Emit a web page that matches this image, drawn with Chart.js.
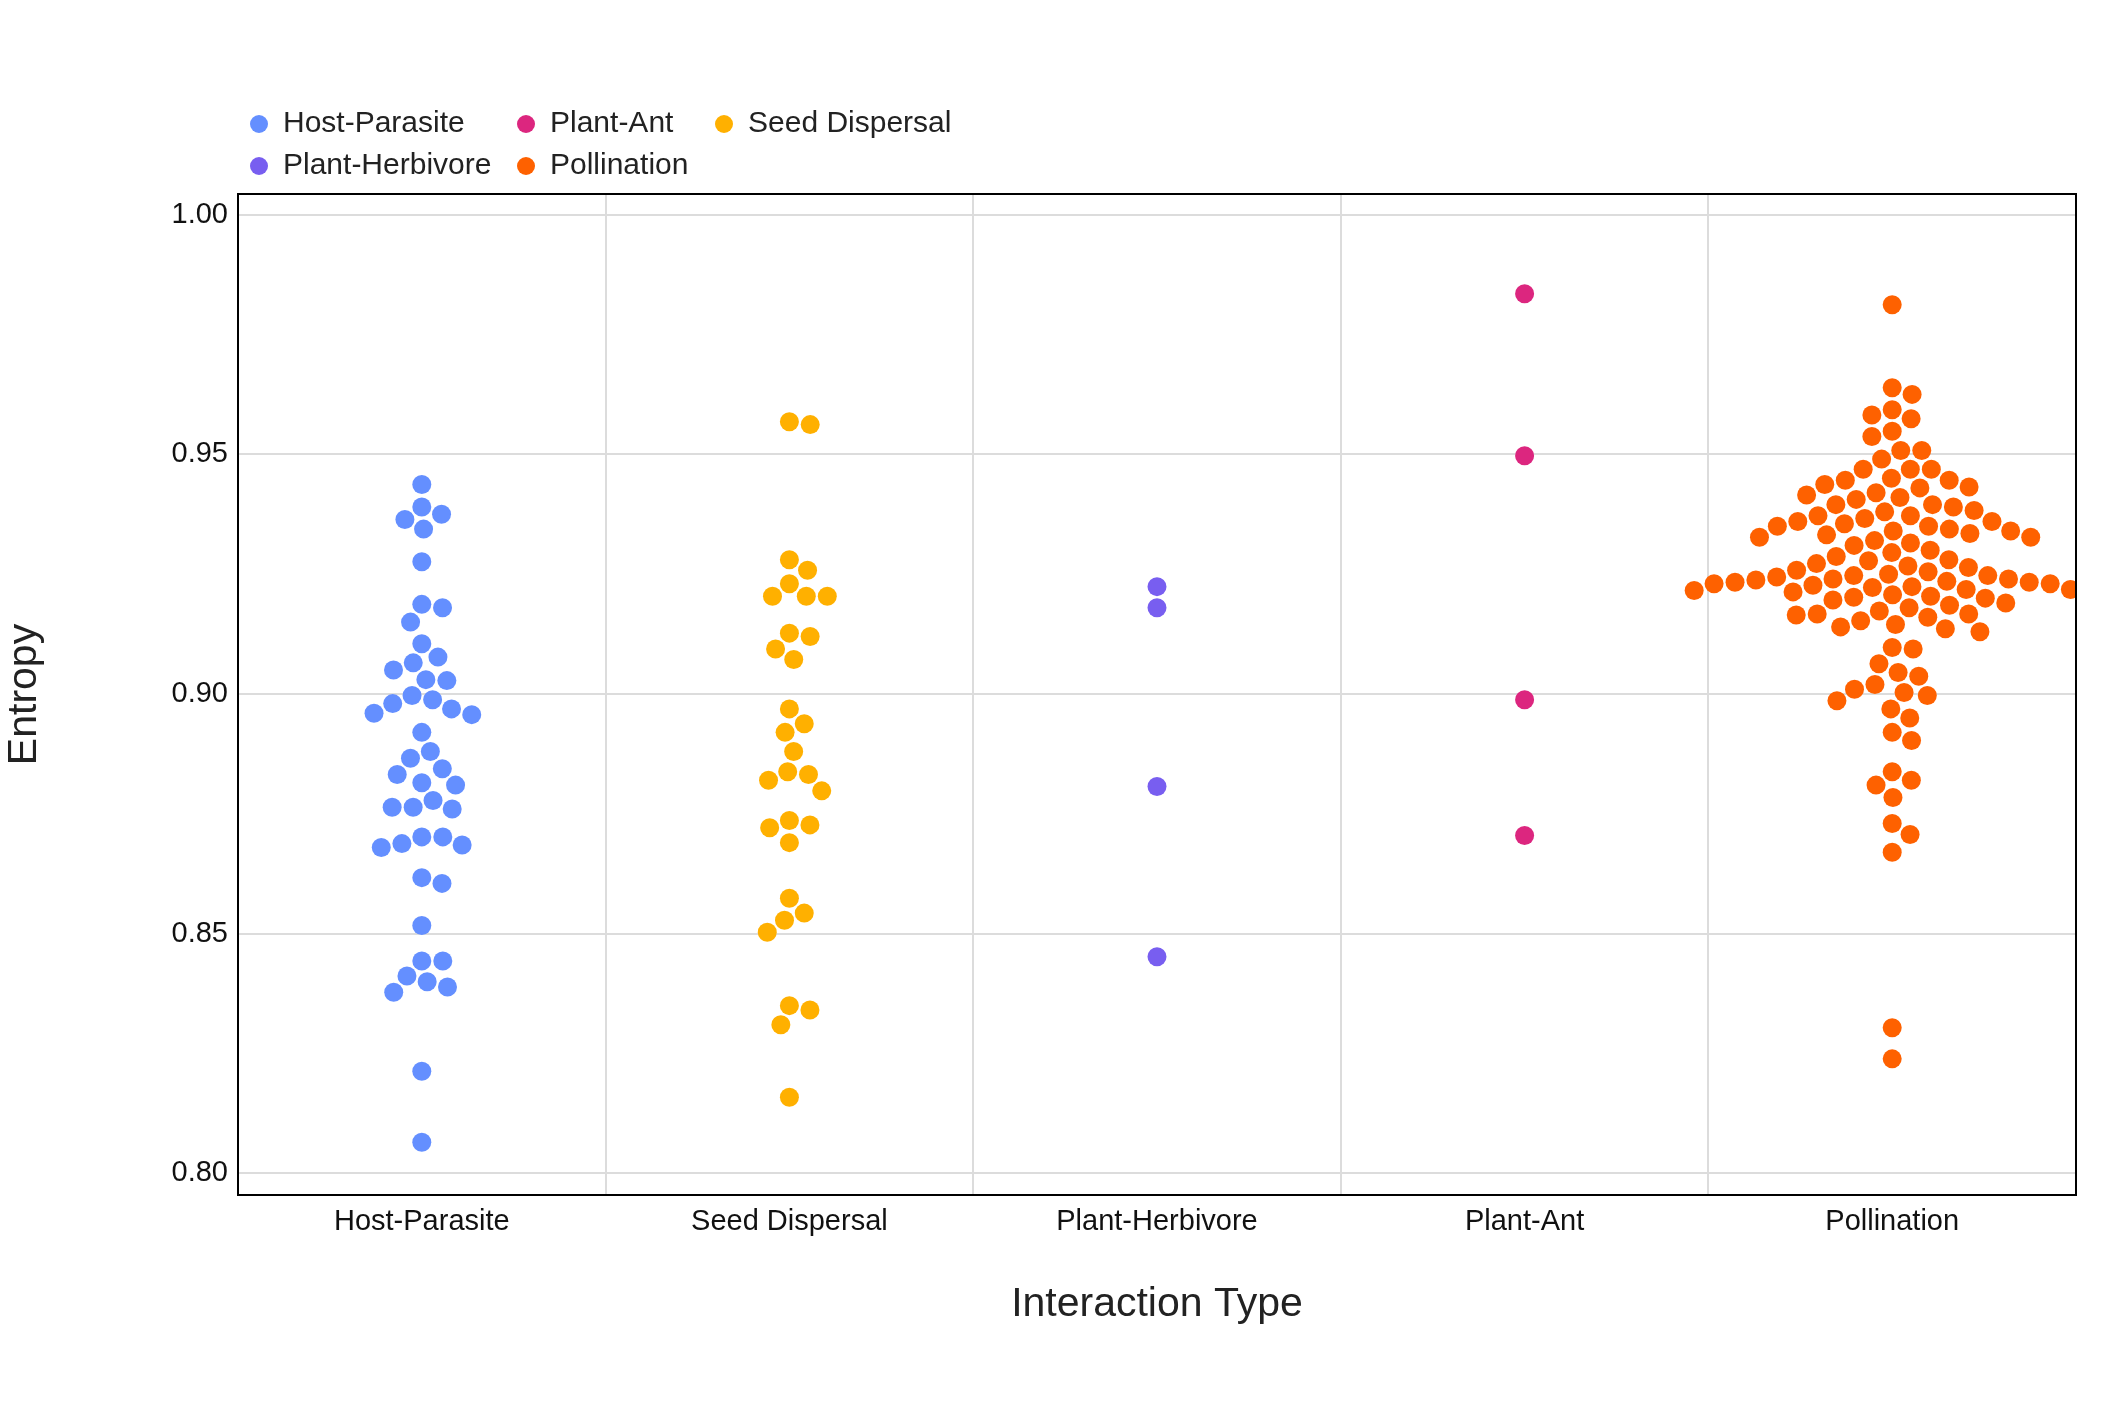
<!DOCTYPE html>
<html><head><meta charset="utf-8">
<script src="https://cdn.jsdelivr.net/npm/chart.js@4"></script>
<style>body{margin:0;background:#fff}</style></head>
<body><canvas id="c" width="2126" height="1417"></canvas>
<script>
const categories = ["Host-Parasite","Seed Dispersal","Plant-Herbivore","Plant-Ant","Pollination"];
const colors = ["#648FFF","#FFB000","#785EF0","#DC267F","#FE6100"];
const yTicks = [0.80,0.85,0.90,0.95,1.00];
const hostParasite = [0.9437,0.939,0.9375,0.9344,0.9364,0.9276,0.9187,0.918,0.915,0.9105,0.9077,0.9065,0.905,0.9028,0.903,0.8997,0.8969,0.8957,0.898,0.8988,0.896,0.892,0.888,0.8866,0.8844,0.8832,0.8815,0.881,0.8764,0.8764,0.876,0.8778,0.8702,0.8702,0.8688,0.8685,0.868,0.8617,0.8605,0.8517,0.8443,0.8443,0.8412,0.84,0.8389,0.8378,0.8213,0.8065];
const seedDispersal = [0.9568,0.9562,0.928,0.9258,0.923,0.9204,0.9204,0.9204,0.9127,0.912,0.9094,0.9072,0.8969,0.8938,0.892,0.888,0.8838,0.8832,0.882,0.8798,0.8736,0.8727,0.8721,0.869,0.8574,0.8543,0.8528,0.8503,0.835,0.8341,0.831,0.8159];
const plantHerbivore = [0.9224,0.918,0.8807,0.8452];
const plantAnt = [0.9835,0.9497,0.8988,0.8705];
const pollination = [0.9812,0.9639,0.9625,0.9593,0.9582,0.9574,0.9548,0.9537,0.9508,0.9508,0.949,0.9469,0.9469,0.9469,0.945,0.9446,0.9446,0.9437,0.9432,0.943,0.942,0.9415,0.941,0.9406,0.9395,0.9395,0.939,0.9383,0.938,0.9372,0.9372,0.9366,0.936,0.936,0.9355,0.935,0.935,0.9344,0.934,0.934,0.9335,0.9332,0.9327,0.9327,0.932,0.9315,0.931,0.93,0.9295,0.9287,0.928,0.9278,0.9272,0.9267,0.9264,0.9258,0.9255,0.925,0.9247,0.9247,0.9244,0.924,0.924,0.9238,0.9235,0.9233,0.9233,0.923,0.923,0.9227,0.9224,0.9222,0.9218,0.9218,0.9216,0.9213,0.921,0.9207,0.9204,0.9202,0.92,0.9196,0.919,0.9185,0.918,0.9173,0.9167,0.9167,0.9165,0.916,0.9153,0.9145,0.914,0.9136,0.913,0.9097,0.9094,0.9063,0.9045,0.9037,0.902,0.901,0.9003,0.8997,0.8986,0.8969,0.895,0.892,0.8903,0.8838,0.882,0.881,0.8784,0.873,0.8707,0.867,0.8304,0.8239];
const groups = [hostParasite, seedDispersal, plantHerbivore, plantAnt, pollination];
const legendOrder = [[0,3,1],[2,4]];

const datasets = groups.map((g,i)=>({label:categories[i],data:g.map(v=>({x:i,y:v})),
  backgroundColor:colors[i],borderWidth:0,pointRadius:9.5,pointHoverRadius:9.5}));

const legendPlugin = {id:'lg',afterDraw(ch){
  const c=ch.ctx; c.save(); c.font='30px "Liberation Sans", Arial, sans-serif'; c.textBaseline='middle';
  const xs=[259,526,724], ys=[124,166];
  legendOrder.forEach((row,r)=>row.forEach((k,j)=>{
    c.fillStyle=colors[k]; c.beginPath(); c.arc(xs[j],ys[r],9,0,Math.PI*2); c.fill();
    c.fillStyle='#222'; c.fillText(categories[k],xs[j]+24,ys[r]);
  })); c.restore();
}};
const framePlugin={id:'fr',afterDraw(ch){const a=ch.chartArea,c=ch.ctx;c.save();c.strokeStyle='#000';c.lineWidth=2;c.strokeRect(a.left,a.top,a.right-a.left,a.bottom-a.top);c.restore();}};

const chart = new Chart(document.getElementById('c'),{type:'scatter',data:{datasets},
 plugins:[legendPlugin,framePlugin],
 options:{responsive:false,animation:false,devicePixelRatio:1,
  layout:{padding:{left:0,top:194,right:50,bottom:0}},
  plugins:{legend:{display:false},tooltip:{enabled:false}},
  scales:{
   x:{type:'linear',min:-0.5,max:4.5,
     afterBuildTicks(s){s.ticks=[];for(let v=-0.5;v<=4.51;v+=0.5)s.ticks.push({value:v});},
     afterFit(s){s.height=222;},
     ticks:{autoSkip:false,maxRotation:0,padding:10,color:'#111',font:{size:29,family:'"Liberation Sans", Arial'},
       callback:v=>Number.isInteger(v)?categories[v]:''},
     grid:{drawTicks:false,color:c=>Number.isInteger(c.tick.value)?'rgba(0,0,0,0)':'#dcdcdc',lineWidth:2},
     border:{display:false},
     title:{display:true,text:'Interaction Type',color:'#222',font:{size:41,family:'"Liberation Sans", Arial'},padding:{top:20,bottom:88}}},
   y:{min:0.7955,max:1.0043,
     afterBuildTicks(s){s.ticks=yTicks.map(v=>({value:v}));},
     afterFit(s){s.width=238;},
     ticks:{padding:10,color:'#111',font:{size:29,family:'"Liberation Sans", Arial'},callback:v=>v.toFixed(2)},
     grid:{drawTicks:false,color:'#dcdcdc',lineWidth:2},border:{display:false},
     title:{display:true,text:'Entropy',color:'#222',font:{size:41,family:'"Liberation Sans", Arial'},padding:{top:0,bottom:0}}}
  }}});

// beeswarm placement computed from the values through the chart scales
(function(){
  const xs=chart.scales.x, ys=chart.scales.y, D=21;
  const pxPerUnit = xs.getPixelForValue(1)-xs.getPixelForValue(0);
  groups.forEach((g,i)=>{
    const pts=g.map((v,k)=>({v,k,py:ys.getPixelForValue(v)})).sort((a,b)=>a.py-b.py);
    const placed=[];
    pts.forEach(p=>{
      const near=placed.filter(q=>Math.abs(q.py-p.py)<D);
      const cands=[0];
      near.forEach(q=>{const w=Math.sqrt(D*D-(q.py-p.py)**2);cands.push(q.px+w,q.px-w);});
      cands.sort((a,b)=>Math.abs(a)-Math.abs(b)||b-a);
      let best=0;
      for(const c of cands){if(near.every(q=>(q.px-c)**2+(q.py-p.py)**2>=D*D-0.01)){best=c;break;}}
      p.px=best; placed.push(p);
      chart.data.datasets[i].data[p.k].x=i+best/pxPerUnit;
    });
  });
  chart.update('none');
})();
</script></body></html>
